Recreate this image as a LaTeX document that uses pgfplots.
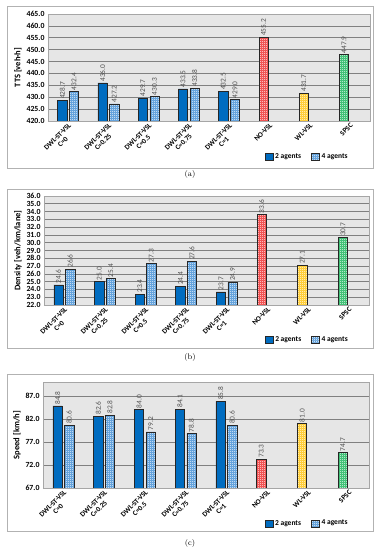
\documentclass[border=0pt]{standalone}
\usepackage{fontspec}
\usepackage{pgfplots}
\pgfplotsset{compat=1.18}
\usetikzlibrary{patterns}
\newfontfamily\carl{Carlito}
\definecolor{dblue}{RGB}{0,108,192}
\definecolor{lblue}{RGB}{80,150,215}
\definecolor{hred}{RGB}{240,60,60}
\definecolor{hyellow}{RGB}{255,200,30}
\definecolor{hgreen}{RGB}{40,185,100}
\definecolor{bggray}{RGB}{230,230,230}
\pgfdeclarepatternformonly{checker}{\pgfpointorigin}{\pgfpoint{2pt}{2pt}}{\pgfpoint{2pt}{2pt}}{
 \pgfpathrectangle{\pgfpointorigin}{\pgfpoint{1pt}{1pt}}
 \pgfpathrectangle{\pgfpoint{1pt}{1pt}}{\pgfpoint{1pt}{1pt}}
 \pgfusepath{fill}}
\pgfplotsset{
 panel/.style={
  scale only axis, anchor=south west,
  xmin=-0.5, xmax=7.5,
  xtick={0,...,7},
  xticklabels={{DWL-ST-VSL\\C=0},{DWL-ST-VSL\\C=0.25},{DWL-ST-VSL\\C=0.5},{DWL-ST-VSL\\C=0.75},{DWL-ST-VSL\\C=1},NO-VSL,WL-VSL,SPSC},
  xticklabel style={rotate=45, anchor=north east, align=center, font=\carl\bfseries\fontsize{7.2}{7.6}\selectfont, inner sep=1pt},
  yticklabel style={font=\carl\bfseries\fontsize{7.8}{8}\selectfont, /pgf/number format/.cd, fixed, fixed zerofill, precision=1, assume math mode=true},
  ylabel style={font=\carl\bfseries\fontsize{8.5}{9}\selectfont, yshift=-2pt},
  major tick length=0pt,
  axis line style={gray!70},
  axis background/.style={fill=bggray},
  ymajorgrids, grid style={black!50, line width=0.6pt},
  ybar, bar width=9.3pt,
  nodes near coords={\pgfmathprintnumber[fixed,fixed zerofill,precision=1,assume math mode=true]{\pgfplotspointmeta}},
  every node near coord/.append style={rotate=90, anchor=west, font=\carl\fontsize{7.4}{7.6}\selectfont, text=black!68, inner sep=1.2pt},
  legend columns=2,
  legend style={draw=none, fill=none, anchor=center, font=\carl\bfseries\fontsize{7.5}{8}\selectfont, /tikz/every even column/.append style={column sep=8pt}},
 },
 two/.style={fill=dblue, draw=black!85, line width=0.5pt, bar shift=-5.8pt, legend image code/.code={\draw[##1] (0pt,-3.5pt) rectangle (8pt,3.5pt);}},
 hatch/.style={fill=#1, draw=black!85, line width=0.5pt, postaction={pattern=checker, pattern color=white}, legend image code/.code={\draw[##1] (0pt,-3.5pt) rectangle (8pt,3.5pt);}},
}
\begin{document}
\begin{tikzpicture}
\useasboundingbox (0,0) rectangle (380pt,550pt);
% panel boxes
\draw[gray!60, line width=0.6pt] (7pt,382pt) rectangle (373pt,544pt);
\draw[gray!60, line width=0.6pt] (7pt,202pt) rectangle (373pt,361pt);
\draw[gray!60, line width=0.6pt] (7pt,19pt) rectangle (373pt,176pt);
\node[font=\fontsize{8}{9}\selectfont] at (190pt,375pt) {(a)};
\node[font=\fontsize{8}{9}\selectfont] at (190pt,192pt) {(b)};
\node[font=\fontsize{8}{9}\selectfont] at (190pt,7pt) {(c)};
% (a)
\begin{axis}[panel, at={(48pt,429pt)}, width=322pt, height=107pt,
  ymin=420, ymax=465, ytick={420,425,...,465}, ylabel={TTS [veh·h]},
  legend style={at={(axis description cs:0.805,-0.336)}}]
\addplot[two] coordinates {(0,428.7)(1,436.0)(2,429.7)(3,433.5)(4,432.5)};
\addplot[hatch=lblue, bar shift=5.8pt] coordinates {(0,432.4)(1,427.2)(2,430.3)(3,433.8)(4,429.0)};
\addplot[hatch=hred, bar shift=-5.8pt, forget plot] coordinates {(5,455.2)};
\addplot[hatch=hyellow, bar shift=-5.8pt, forget plot] coordinates {(6,431.7)};
\addplot[hatch=hgreen, bar shift=-5.8pt, forget plot] coordinates {(7,447.9)};
\legend{2 agents, 4 agents}
\end{axis}
% (b)
\begin{axis}[panel, at={(44pt,245pt)}, width=325pt, height=109pt,
  ymin=22, ymax=36, ytick={22,23,...,36}, ylabel={Density [veh/km/lane]},
  legend style={at={(axis description cs:0.81,-0.32)}}]
\addplot[two] coordinates {(0,24.6)(1,25.0)(2,23.4)(3,24.4)(4,23.7)};
\addplot[hatch=lblue, bar shift=5.8pt] coordinates {(0,26.6)(1,25.4)(2,27.3)(3,27.6)(4,24.9)};
\addplot[hatch=hred, bar shift=-5.8pt, forget plot] coordinates {(5,33.6)};
\addplot[hatch=hyellow, bar shift=-5.8pt, forget plot] coordinates {(6,27.1)};
\addplot[hatch=hgreen, bar shift=-5.8pt, forget plot] coordinates {(7,30.7)};
\legend{2 agents, 4 agents}
\end{axis}
% (c)
\begin{axis}[panel, at={(43pt,62pt)}, width=326pt, height=106pt,
  ymin=67, ymax=90, ytick={67,72,...,87}, ylabel={Speed [km/h]},
  legend style={at={(axis description cs:0.81,-0.333)}}]
\addplot[two] coordinates {(0,84.8)(1,82.6)(2,84.0)(3,84.1)(4,85.8)};
\addplot[hatch=lblue, bar shift=5.8pt] coordinates {(0,80.6)(1,82.8)(2,79.2)(3,78.8)(4,80.6)};
\addplot[hatch=hred, bar shift=-5.8pt, forget plot] coordinates {(5,73.3)};
\addplot[hatch=hyellow, bar shift=-5.8pt, forget plot] coordinates {(6,81.0)};
\addplot[hatch=hgreen, bar shift=-5.8pt, forget plot] coordinates {(7,74.7)};
\legend{2 agents, 4 agents}
\end{axis}
\end{tikzpicture}
\end{document}
